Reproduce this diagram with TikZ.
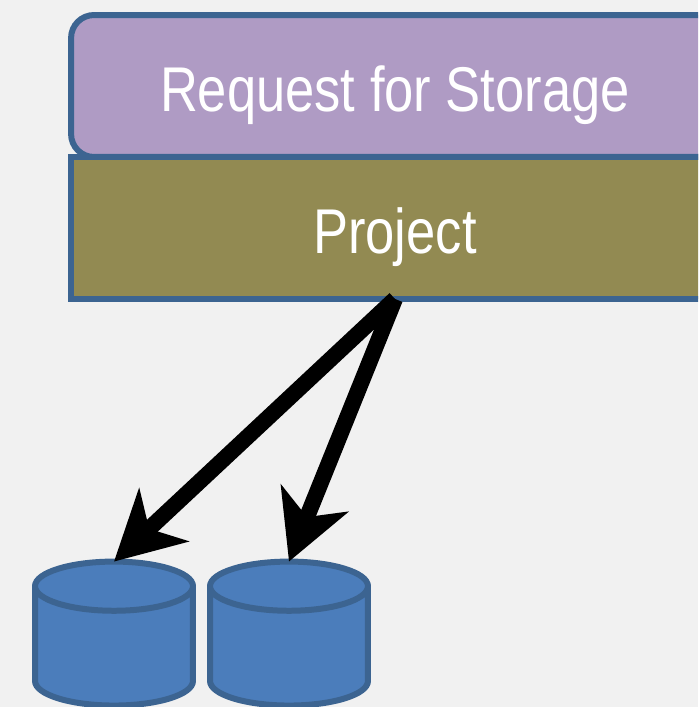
\documentclass[tikz,border=0pt]{standalone}
\usepackage{fontspec}
\setmainfont[FakeStretch=.83]{Liberation Sans}
\usetikzlibrary{arrows.meta,positioning,shapes.geometric}

\definecolor{pagegray}{HTML}{F1F1F1}
\definecolor{rimblue}{HTML}{3C6491}
\definecolor{diskblue}{HTML}{4B7DBB}
\definecolor{requestpurple}{HTML}{AF9BC4}
\definecolor{projectolive}{HTML}{928A52}

\tikzset{
    layerbox/.style={draw=rimblue, line width=.12cm, minimum width=12.96cm, minimum height=2.84cm,
        outer sep=0pt, text=white, text height=1.31cm, text depth=.27cm, font=\fontsize{36}{40}\selectfont},
    disk/.style={shape=cylinder, shape border rotate=90, aspect=4.2, draw=rimblue, fill=diskblue,
        line width=.12cm, minimum width=3.16cm, minimum height=2.88cm, outer sep=0pt},
    bigarrow/.style={line width=.32cm, -{Stealth[length=1.36cm, width=1.44cm, inset=.4cm]}},
}

\begin{document}
\begin{tikzpicture}[x=.02cm, y=.02cm]
    \useasboundingbox (0,0) rectangle (698,-707);
    \clip (0,0) rectangle (698,-707);
    \fill[pagegray] (0,0) rectangle (698,-707);

    \node[layerbox, fill=requestpurple, rounded corners=.46cm] (request) at (395,-86) {Request for Storage};
    \node[layerbox, fill=projectolive, below=0pt of request] (project) {Project};

    \node[disk] (diskleft) at (114,-652) {};
    \node[disk, right=.34cm of diskleft] (diskright) {};

    \draw[bigarrow] (project.south) -- (diskleft.90);
    \draw[bigarrow] (project.south) -- (diskright.90);
\end{tikzpicture}
\end{document}
